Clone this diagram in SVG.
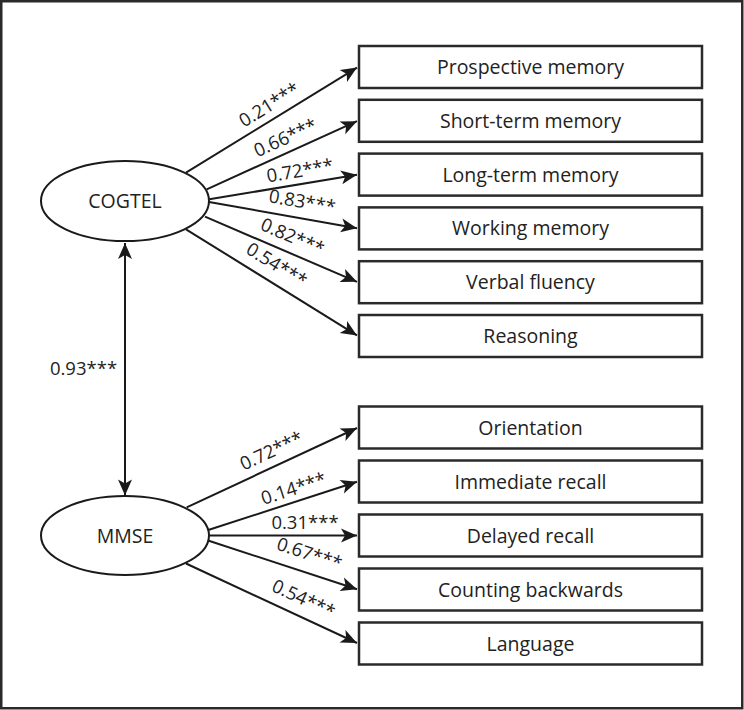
<svg xmlns="http://www.w3.org/2000/svg" width="744" height="710" viewBox="0 0 744 710">
<defs>
<marker id="ah" markerUnits="userSpaceOnUse" markerWidth="20" markerHeight="18" viewBox="-17 -9 19 18" refX="0" refY="0" orient="auto-start-reverse">
<path d="M0,0 L-16,-7 L-12,0 L-16,7 Z" fill="#1a1a1a"/>
</marker>
<style>
.frame{fill:#fff;stroke:#2a2a2a;stroke-width:2.5}
.box{fill:#fff;stroke:#2a2a2a;stroke-width:2.5}
.ell{fill:#fff;stroke:#1a1a1a;stroke-width:2}
.ln{fill:none;stroke:#1a1a1a;stroke-width:2}
.bt{font-family:"Open Sans","Noto Sans","Liberation Sans",sans-serif;font-size:19.5px;fill:#222;text-anchor:middle}
.et{font-family:"Open Sans","Noto Sans","Liberation Sans",sans-serif;font-size:19.5px;fill:#222;text-anchor:middle}
.lt{font-family:"Open Sans","Noto Sans","Liberation Sans",sans-serif;font-size:18.5px;fill:#222;text-anchor:middle}
</style>
</defs>
<rect class="frame" x="1.25" y="1.25" width="741" height="707"/>

<g id="connectors">
<line class="ln" x1="186" y1="172.7" x2="357" y2="67.6" marker-end="url(#ah)"/>
<line class="ln" x1="206.7" y1="189.3" x2="357" y2="121.2" marker-end="url(#ah)"/>
<line class="ln" x1="209.3" y1="199.3" x2="357" y2="174.8" marker-end="url(#ah)"/>
<line class="ln" x1="209" y1="202" x2="357" y2="228.2" marker-end="url(#ah)"/>
<line class="ln" x1="205" y1="216.7" x2="357" y2="281.8" marker-end="url(#ah)"/>
<line class="ln" x1="186" y1="229.3" x2="357" y2="335.4" marker-end="url(#ah)"/>
<line class="ln" x1="186.7" y1="507.3" x2="357" y2="428" marker-end="url(#ah)"/>
<line class="ln" x1="208.3" y1="530" x2="357" y2="481.8" marker-end="url(#ah)"/>
<line class="ln" x1="209.5" y1="535.5" x2="357" y2="535.5" marker-end="url(#ah)"/>
<line class="ln" x1="208" y1="540.5" x2="357" y2="589.2" marker-end="url(#ah)"/>
<line class="ln" x1="186" y1="563.5" x2="357" y2="643" marker-end="url(#ah)"/>
<line class="ln" x1="125" y1="243" x2="125" y2="495.5" marker-start="url(#ah)" marker-end="url(#ah)"/>
</g>

<g id="edge-labels">
<text class="lt" transform="translate(270,106) rotate(-31.6)" y="5">0.21***</text>
<text class="lt" transform="translate(286,139) rotate(-24.4)" y="5">0.66***</text>
<text class="lt" transform="translate(300,172) rotate(-9.4)" y="5">0.72***</text>
<text class="lt" transform="translate(302,203) rotate(10)" y="5">0.83***</text>
<text class="lt" transform="translate(292,238) rotate(23.2)" y="5">0.82***</text>
<text class="lt" transform="translate(276,266) rotate(31.8)" y="5">0.54***</text>
<text class="lt" transform="translate(272,452) rotate(-25)" y="5">0.72***</text>
<text class="lt" transform="translate(294,490) rotate(-17.9)" y="5">0.14***</text>
<text class="lt" transform="translate(305,524)" y="5">0.31***</text>
<text class="lt" transform="translate(309,555) rotate(18.1)" y="5">0.67***</text>
<text class="lt" transform="translate(303,600) rotate(24.9)" y="5">0.54***</text>
<text class="lt" x="83.5" y="375">0.93***</text>
</g>

<g id="COGTEL">
<ellipse class="ell" cx="125" cy="201" rx="84" ry="40"/>
<text class="et" x="125" y="208">COGTEL</text>
</g>
<g id="MMSE">
<ellipse class="ell" cx="125" cy="535.5" rx="84" ry="39.5"/>
<text class="et" x="125" y="542.5">MMSE</text>
</g>

<g id="prospective">
<rect class="box" x="359" y="46" width="343" height="42"/>
<text class="bt" x="530.5" y="74">Prospective memory</text>
</g>
<g id="shortterm">
<rect class="box" x="359" y="99.8" width="343" height="42"/>
<text class="bt" x="530.5" y="127.8">Short-term memory</text>
</g>
<g id="longterm">
<rect class="box" x="359" y="153.6" width="343" height="42"/>
<text class="bt" x="530.5" y="181.6">Long-term memory</text>
</g>
<g id="working">
<rect class="box" x="359" y="207.4" width="343" height="42"/>
<text class="bt" x="530.5" y="235.4">Working memory</text>
</g>
<g id="verbal">
<rect class="box" x="359" y="261.2" width="343" height="42"/>
<text class="bt" x="530.5" y="289.2">Verbal fluency</text>
</g>
<g id="reasoning">
<rect class="box" x="359" y="315" width="343" height="42"/>
<text class="bt" x="530.5" y="343">Reasoning</text>
</g>

<g id="orientation">
<rect class="box" x="359" y="406.5" width="343" height="42"/>
<text class="bt" x="530.5" y="434.5">Orientation</text>
</g>
<g id="immediate">
<rect class="box" x="359" y="460.5" width="343" height="42"/>
<text class="bt" x="530.5" y="488.5">Immediate recall</text>
</g>
<g id="delayed">
<rect class="box" x="359" y="514.5" width="343" height="42"/>
<text class="bt" x="530.5" y="542.5">Delayed recall</text>
</g>
<g id="counting">
<rect class="box" x="359" y="568.5" width="343" height="42"/>
<text class="bt" x="530.5" y="596.5">Counting backwards</text>
</g>
<g id="language">
<rect class="box" x="359" y="622.5" width="343" height="42"/>
<text class="bt" x="530.5" y="650.5">Language</text>
</g>
</svg>
